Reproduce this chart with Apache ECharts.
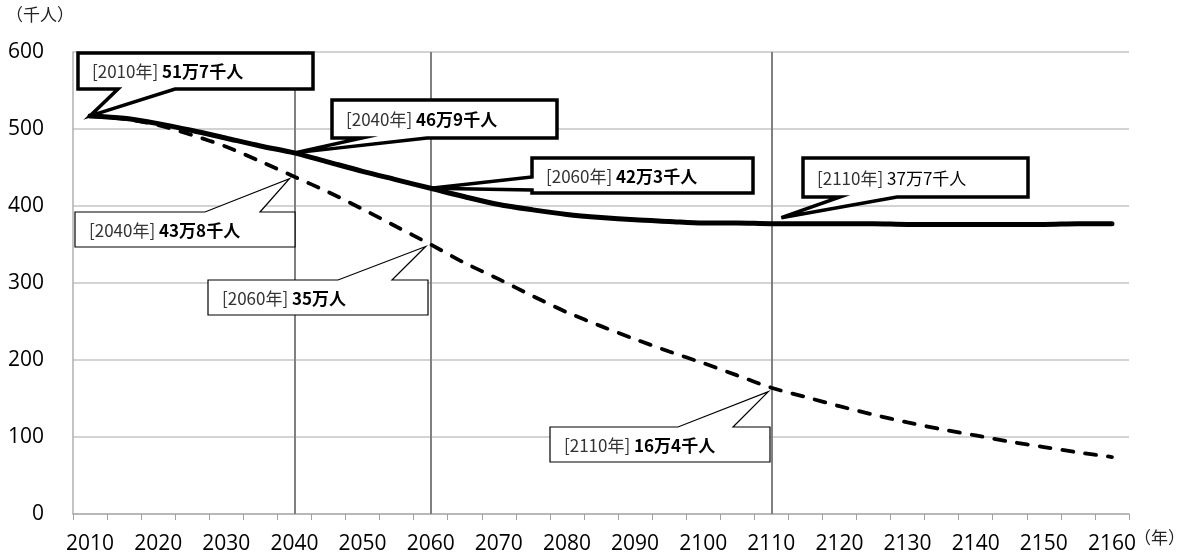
<!DOCTYPE html>
<html><head><meta charset="utf-8">
<script src="https://cdn.jsdelivr.net/npm/echarts@6/dist/echarts.min.js"></script>
<style>html,body{margin:0;padding:0;background:#fff}#c{width:1181px;height:555px}</style>
</head><body><div id="c"></div>
<script>
// ---- data ----
const years = ['2010','2015','2020','2025','2030','2035','2040','2045','2050','2055','2060','2065','2070','2075','2080','2085','2090','2095','2100','2105','2110','2115','2120','2125','2130','2135','2140','2145','2150','2155','2160'];
const goalValues = [517,514,507,498,488,478,469,457,445,434,423,412,402,395,389,385,382,380,378,378,377,377,377,377,376,376,376,376,376,377,377];
const trendValues = [517,513,505,492,477,458,438,418,396,373,350,326,305,283,262,244,227,211,196,180,164,152,140,129,119,110,102,94,87,80,74];
const markYears = ['2040','2060','2110'];
const yMin = 0, yMax = 600, yStep = 100;
const yUnit = '（千人）';
const xUnit = '（年）';
const calloutTexts = [
  {series:0, year:'2010', tag:'[2010年] ', value:'51万7千人'},
  {series:0, year:'2040', tag:'[2040年] ', value:'46万9千人'},
  {series:0, year:'2060', tag:'[2060年] ', value:'42万3千人'},
  {series:0, year:'2110', tag:'[2110年] ', value:'37万7千人'},
  {series:1, year:'2040', tag:'[2040年] ', value:'43万8千人'},
  {series:1, year:'2060', tag:'[2060年] ', value:'35万人'},
  {series:1, year:'2110', tag:'[2110年] ', value:'16万4千人'}
];
// ---- layout of callouts (pixels) ----
const calloutLayout = [
  {box:[78,53,313,89],   edge:'bottom', base:[118,175], thick:true,  bold:true,  off:[0,0]},
  {box:[332,100,557,138],edge:'bottom', base:[362,427], thick:true,  bold:true,  off:[0,0]},
  {box:[532,158,753,193],edge:'left',   base:[177,190], thick:true,  bold:true,  off:[0,0]},
  {box:[803,158,1028,197],edge:'bottom',base:[840,897], thick:true,  bold:false, off:[10,-6]},
  {box:[75,212,295,247], edge:'top',    base:[205,260], thick:false, bold:true,  off:[-5,2]},
  {box:[208,280,428,315],edge:'top',    base:[338,392], thick:false, bold:true,  off:[-5,2]},
  {box:[550,427,770,462],edge:'top',    base:[678,733], thick:false, bold:true,  off:[-3,4]}
];

const FONT = '"Noto Sans CJK JP","Noto Sans",sans-serif';
const chart = echarts.init(document.getElementById('c'));
chart.setOption({
  animation:false,
  backgroundColor:'#fff',
  grid:{left:73, right:52, top:52, bottom:39, containLabel:false},
  xAxis:{
    type:'category', data:years, boundaryGap:true,
    axisLine:{show:true, lineStyle:{color:'#b0b0b0', width:1.5}},
    axisTick:{show:true, interval:0, length:6, lineStyle:{color:'#a0a0a0', width:1}},
    axisLabel:{interval:1, color:'#000', fontSize:21, fontFamily:'"Open Sans","Noto Sans",sans-serif', margin:20},
    splitLine:{show:false}
  },
  yAxis:{
    type:'value', min:yMin, max:yMax, interval:yStep,
    axisLine:{show:true, lineStyle:{color:'#b0b0b0', width:1.5}},
    axisTick:{show:false},
    axisLabel:{color:'#000', fontSize:21, fontFamily:'"Open Sans","Noto Sans",sans-serif', margin:29},
    splitLine:{show:true, lineStyle:{color:'#c4c4c4', width:1.5}}
  },
  series:[
    {type:'line', data:goalValues, smooth:0.3, symbol:'none', z:4,
     lineStyle:{color:'#000', width:5, cap:'round'},
     markLine:{silent:true, symbol:'none', label:{show:false}, z:1,
       lineStyle:{color:'#808080', width:2, type:'solid'},
       data:markYears.map(y=>({xAxis:y}))}},
    {type:'line', data:trendValues, smooth:0.3, symbol:'none', z:3,
     lineStyle:{color:'#000', width:3.8, type:[11,12], cap:'round'}}
  ]
});

const graphics = [
  {type:'text', left:6, top:6, style:{text:yUnit, font:'17px '+FONT, fill:'#222'}},
  {type:'text', left:1134, top:529, style:{text:xUnit, font:'17px '+FONT, fill:'#222'}}
];
calloutTexts.forEach((c,i)=>{
  const L = calloutLayout[i];
  const vals = c.series===0 ? goalValues : trendValues;
  const p = chart.convertToPixel({seriesIndex:c.series}, [years.indexOf(c.year), vals[years.indexOf(c.year)]]);
  const tip = [p[0]+L.off[0], p[1]+L.off[1]];
  const [x0,y0,x1,y1] = L.box;
  const [b1,b2] = L.base;
  let pts;
  if (L.edge==='bottom') pts = [[x0,y0],[x1,y0],[x1,y1],[b2,y1],tip,[b1,y1],[x0,y1]];
  else if (L.edge==='top') pts = [[x0,y0],[b1,y0],tip,[b2,y0],[x1,y0],[x1,y1],[x0,y1]];
  else pts = [[x0,y0],[x1,y0],[x1,y1],[x0,y1],[x0,b2],tip,[x0,b1]];
  graphics.push({type:'polygon', z:100, shape:{points:pts},
    style:{fill:'#fff', stroke:'#000', lineWidth:L.thick?3.5:1.2, lineJoin:'miter'}});
  graphics.push({type:'text', z:101, x:x0+14, y:(y0+y1)/2+1,
    style:{text:'{a|'+c.tag+'}{b|'+c.value+'}', verticalAlign:'middle', align:'left',
      rich:{
        a:{fontSize:17, fontFamily:FONT, fill:'#333', fontWeight:'normal'},
        b:{fontSize:17, fontFamily:FONT, fill:'#000', fontWeight:L.bold?'bold':'normal'}
      }}});
});
chart.setOption({graphic:graphics}, {replaceMerge:['graphic']});
</script></body></html>
